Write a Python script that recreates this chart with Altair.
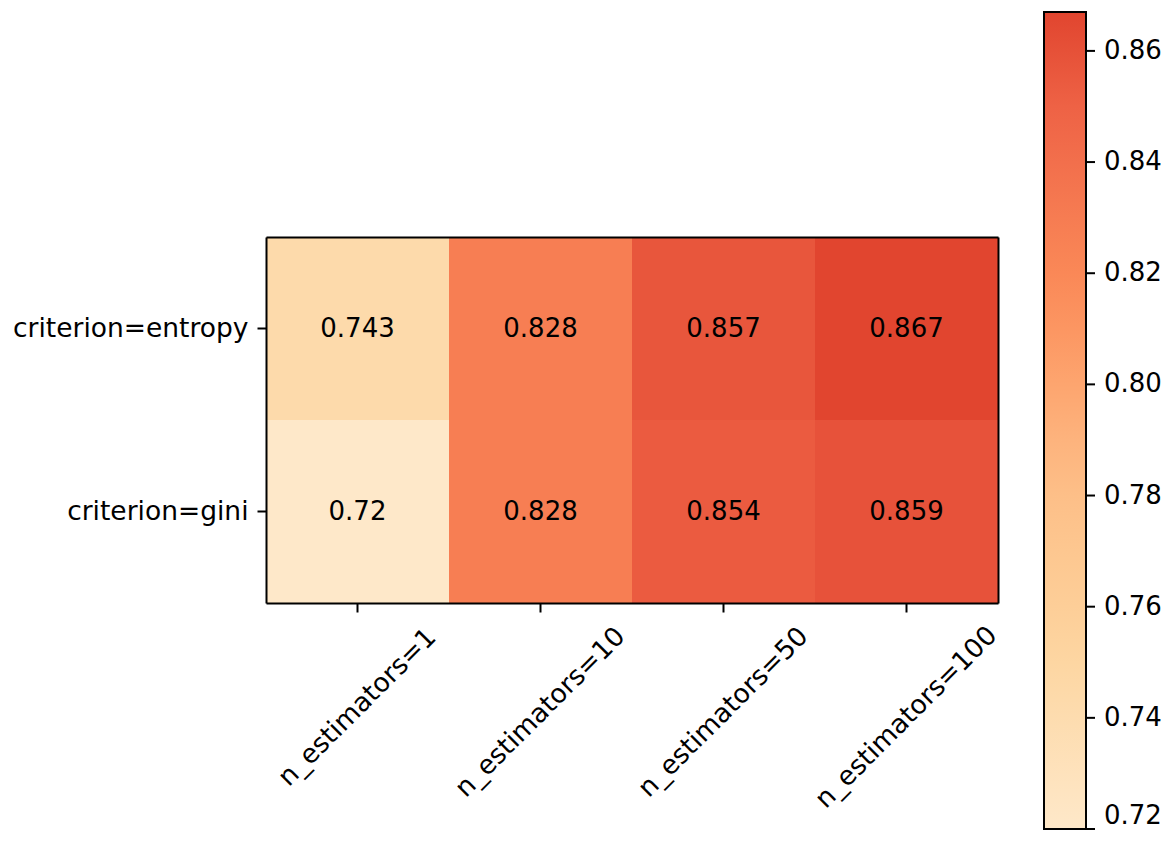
import altair as alt
import pandas as pd

rows = ["criterion=entropy", "criterion=gini"]
cols = ["n_estimators=1", "n_estimators=10", "n_estimators=50", "n_estimators=100"]
entropy_vals = [0.743, 0.828, 0.857, 0.867]
gini_vals = [0.72, 0.828, 0.854, 0.859]
cbar_ticks = [0.72, 0.74, 0.76, 0.78, 0.80, 0.82, 0.84, 0.86]

# truncated OrRd-like colormap stops
stop_vals = [0.72, 0.7530, 0.7846, 0.8163, 0.8480, 0.867]
stop_cols = ["#fee8c9", "#fdd49e", "#fdbb84", "#fc8d59", "#ef6548", "#e1452f"]

records = []
for r, vals in zip(rows, [entropy_vals, gini_vals]):
    for c, v in zip(cols, vals):
        records.append({"row": r, "col": c, "value": v})
df = pd.DataFrame(records)
ticks_df = pd.DataFrame({"t": cbar_ticks})

FONT = "DejaVu Sans"
FS = 26
AFS = 26.5

xscale = alt.Scale(paddingInner=0, paddingOuter=0)
yscale = alt.Scale(paddingInner=0, paddingOuter=0)

x_label_pad = {
    "condition": [
        {"test": "datum.value == 'n_estimators=1'", "value": 95},
        {"test": "datum.value == 'n_estimators=100'", "value": 105},
    ],
    "value": 100,
}

rects = alt.Chart(df).mark_rect().encode(
    x=alt.X("col:N", sort=cols, title=None, scale=xscale,
            axis=alt.Axis(labelAngle=-45, labelAlign="center", labelBaseline="middle",
                          labelFontSize=AFS, labelFont=FONT, labelColor="black",
                          labelLimit=600,
                          tickSize=9, tickWidth=2, tickColor="black",
                          labelPadding=x_label_pad, domain=True, domainColor="black",
                          domainWidth=2, grid=False, zindex=1)),
    y=alt.Y("row:N", sort=rows, title=None, scale=yscale,
            axis=alt.Axis(labelFontSize=AFS, labelFont=FONT, labelColor="black",
                          labelLimit=600,
                          tickSize=9, tickWidth=2, tickColor="black",
                          labelPadding=9, domain=True, domainColor="black",
                          domainWidth=2, grid=False, zindex=1)),
    color=alt.Color("value:Q", title=None,
                    scale=alt.Scale(domain=stop_vals, range=stop_cols, interpolate="rgb"),
                    legend=alt.Legend(orient="none", legendX=778, legendY=-225,
                                      gradientLength=817, gradientThickness=42,
                                      gradientStrokeColor="black", gradientStrokeWidth=2,
                                      values=cbar_ticks, format=".2f",
                                      labelFontSize=FS, labelFont=FONT, labelColor="black",
                                      labelBaseline="middle", labelOffset=18,
                                      labelOverlap=False)),
)

texts = alt.Chart(df).mark_text(font=FONT, fontSize=FS, color="black").encode(
    x=alt.X("col:N", sort=cols, title=None, scale=xscale,
            axis=alt.Axis(orient="top", labels=False, ticks=False, domain=True,
                          domainColor="black", domainWidth=2, grid=False, zindex=1)),
    y=alt.Y("row:N", sort=rows, title=None, scale=yscale,
            axis=alt.Axis(orient="right", labels=False, ticks=False, domain=True,
                          domainColor="black", domainWidth=2, grid=False, zindex=1)),
    text=alt.Text("value:Q", format=".3~f"),
)

# colorbar tick marks, placed with a scale that spans the colorbar
cbar_tick_marks = alt.Chart(ticks_df).mark_rule(color="black", strokeWidth=2).encode(
    y=alt.Y("t:Q", scale=alt.Scale(domain=[0.72, 0.867], range=[592, -225]), axis=None),
    x=alt.value(820),
    x2=alt.value(829),
)

chart = (rects + texts + cbar_tick_marks).resolve_scale(y="independent").resolve_axis(
    x="independent", y="independent").properties(
    width=732, height=366,
    padding={"left": 258, "top": 229, "right": 166, "bottom": 230},
    autosize="none",
).configure_view(strokeWidth=0).configure(background="white")

chart.save("out.html", embed_options={"renderer": "svg", "actions": False})
